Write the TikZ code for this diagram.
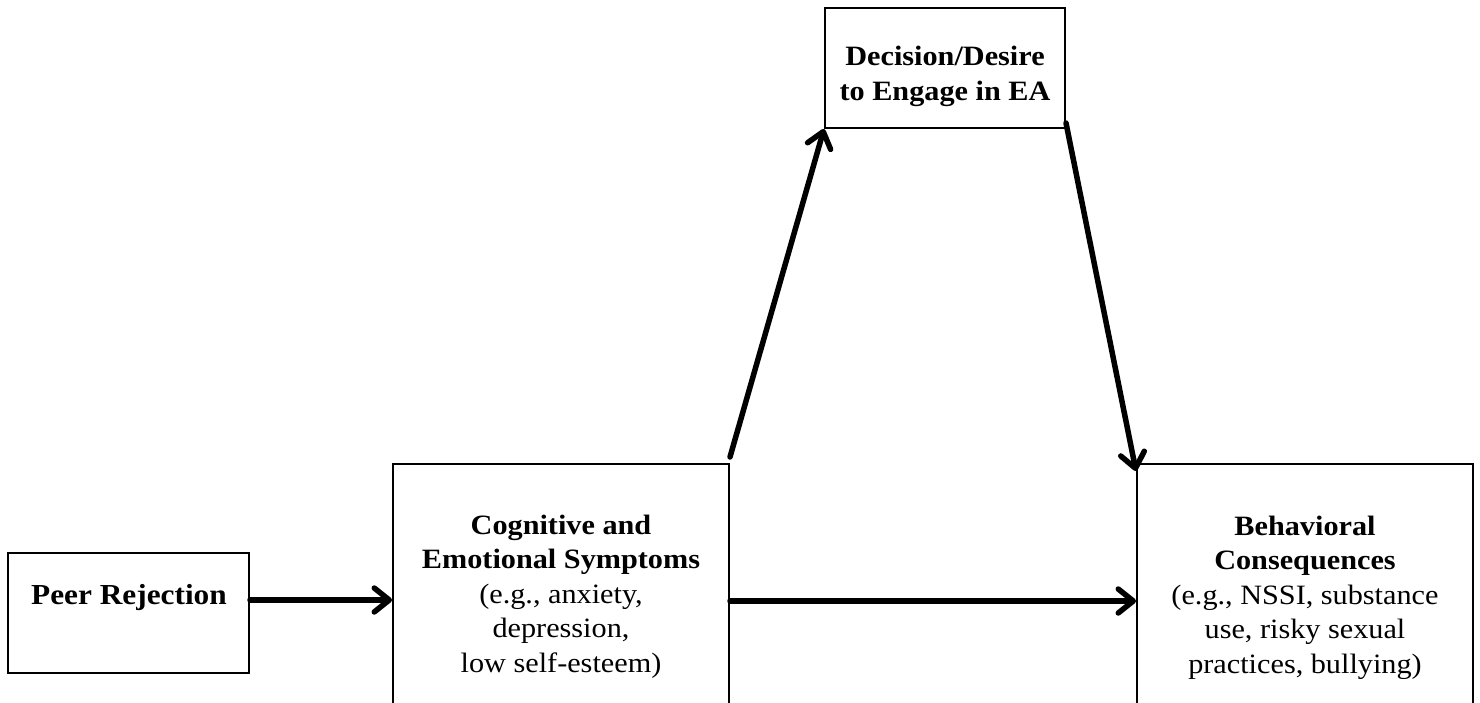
\documentclass[tikz,border=0pt]{standalone}
\usepackage{fontspec}
\setmainfont{Liberation Serif}[FakeStretch=1.08]
\usetikzlibrary{arrows.meta}
\begin{document}
\begin{tikzpicture}[x=1pt,y=-1pt,
  box/.style={draw=black,line width=2pt,fill=white,inner sep=0pt,minimum width=#1},
  lbl/.style={inner sep=0pt,align=center,anchor=base,font=\fontsize{28}{34.5}\selectfont},
  conn/.style={line width=5.5pt,line cap=round,line join=round,
    -{Straight Barb[length=15pt,width=24pt,line width=5.5pt,round]}}]
\useasboundingbox (0,0) rectangle (1480,702);
\clip (0,0) rectangle (1480,702);
\node[box=241pt,minimum height=120pt] (peer) at (128.5,613) {};
\node[box=336pt,minimum height=256pt] (cog) at (561,592) {};
\node[box=336pt,minimum height=256pt] (beh) at (1305,592) {};
\node[box=240pt,minimum height=120pt] (dec) at (945,68) {};
\node[lbl,font=\fontsize{29}{34.5}\selectfont] (peert) at (129,604) {\textbf{Peer Rejection}};
\node[lbl] (cogt) at (561,672) {\textbf{Cognitive and}\\\textbf{Emotional Symptoms}\\(e.g., anxiety,\\depression,\\low self-esteem)};
\node[lbl] (beht) at (1305,673) {\textbf{Behavioral}\\\textbf{Consequences}\\(e.g., NSSI, substance\\use, risky sexual\\practices, bullying)};
\node[lbl] (dect) at (945,100) {\textbf{Decision/Desire}\\\textbf{to Engage in EA}};
\draw[conn] ([yshift=13pt]peer.east) -- ([yshift=13pt]peer.east -| cog.west);
\draw[conn] ([yshift=-9pt]cog.east) -- ([yshift=-9pt]cog.east -| beh.west);
\draw[conn] ([yshift=6pt]cog.north east) -- (dec.south west);
\draw[conn] ([yshift=6pt]dec.south east) -- ([yshift=-8pt]beh.north west);
\end{tikzpicture}
\end{document}
